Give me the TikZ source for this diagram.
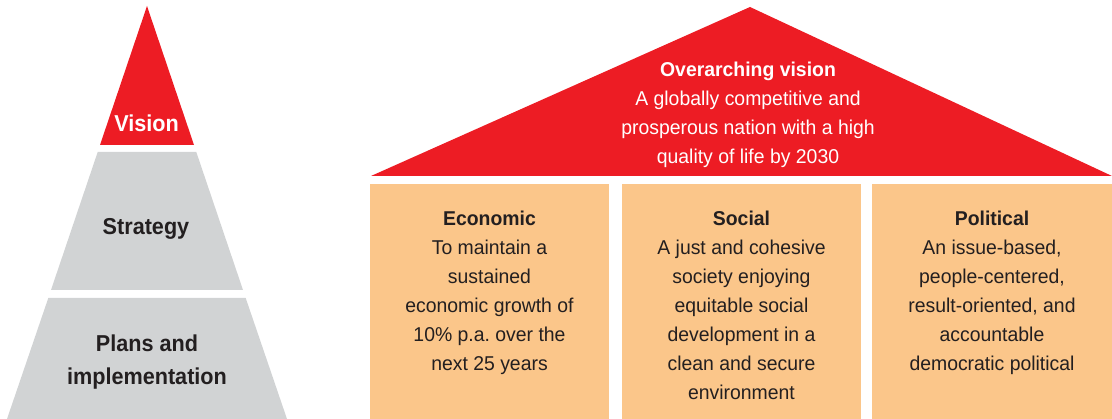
\documentclass[tikz,border=0pt]{standalone}
\usepackage{fontspec}
\setmainfont{Liberation Sans}[FakeStretch=0.97]
\newfontfamily\pyrfont{Liberation Sans}[FakeStretch=0.94]
\definecolor{vred}{RGB}{237,28,36}
\definecolor{pgray}{RGB}{209,211,212}
\definecolor{orng}{RGB}{251,198,138}
\definecolor{tdark}{RGB}{35,31,32}
\frenchspacing
\begin{document}
\begin{tikzpicture}[x=1pt,y=-1pt,
  txt/.style={font=\fontsize{20}{29}\selectfont, align=center, inner sep=0pt, anchor=base, text=tdark},
  pyr/.style={font=\pyrfont\fontsize{23}{33}\selectfont\bfseries, align=center, inner sep=0pt, anchor=base, text=tdark}]
\useasboundingbox (0,0) rectangle (1112,419);
% pyramid
\fill[vred] (147,6) -- (194,145) -- (100,145) -- cycle;
\fill[pgray] (97.7,152) -- (196.3,152) -- (243,290) -- (51,290) -- cycle;
\fill[pgray] (48.3,298) -- (245.7,298) -- (287,419) -- (7,419) -- cycle;
% anchor=base is the baseline of the last line
\node[pyr, text=white] (vision) at (146.5,132) {Vision};
\node[pyr] (strategy) at (146,235) {Strategy};
\node[pyr] (plans) at (147,385) {Plans and\\implementation};
% house
\fill[vred] (750,7) -- (1112,176) -- (371,176) -- cycle;
\node[txt, text=white] (overarching) at (748,164) {\textbf{Overarching vision}\\A globally competitive and\\prosperous nation with a high\\quality of life by 2030};
\fill[orng] (370,184) rectangle (609,419);
\fill[orng] (622,184) rectangle (861,419);
\fill[orng] (872,184) rectangle (1112,419);
\node[txt] (economic) at (489.5,371) {\textbf{Economic}\\To maintain a\\sustained\\economic growth of\\10\% p.a.\ over the\\next 25 years};
\node[txt] (social) at (741.5,400) {\textbf{Social}\\A just and cohesive\\society enjoying\\equitable social\\development in a\\clean and secure\\environment};
\node[txt] (political) at (992,371) {\textbf{Political}\\An issue-based,\\people-centered,\\result-oriented, and\\accountable\\democratic political};
\end{tikzpicture}
\end{document}
